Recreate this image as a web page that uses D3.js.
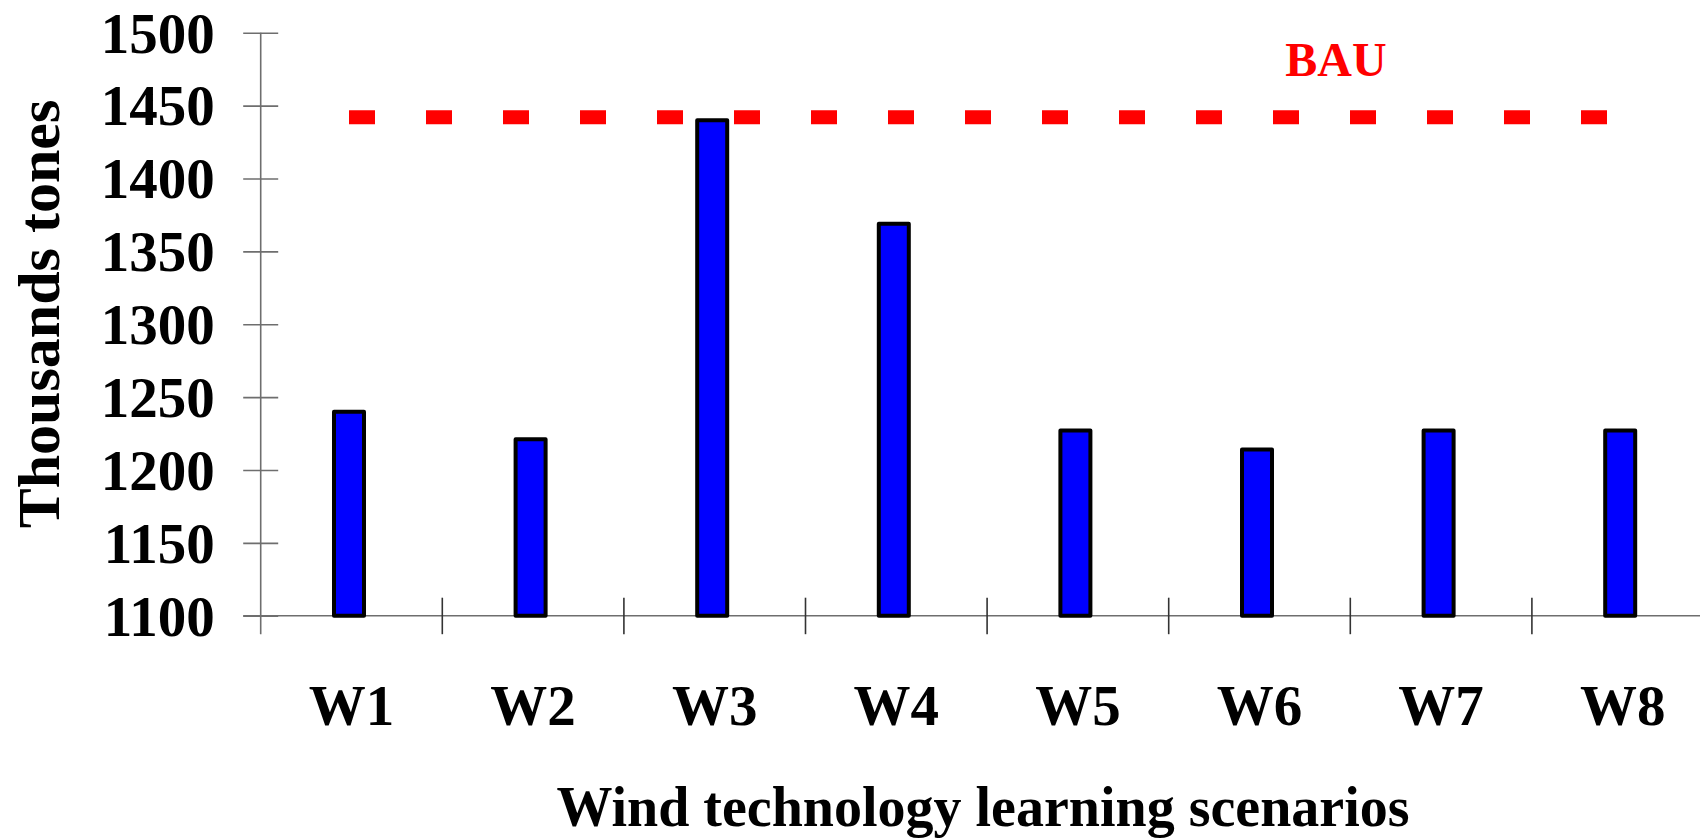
<!DOCTYPE html>
<html>
<head>
<meta charset="utf-8">
<script src="https://cdn.jsdelivr.net/npm/d3@7"></script>
<style>
  body { margin: 0; background: #fff; }
  text { font-family: 'Liberation Serif', 'Times New Roman', serif; font-weight: bold; }
</style>
</head>
<body>
<svg id="chart" width="1700" height="838"></svg>
<script>
// data
const scenarios = ['W1', 'W2', 'W3', 'W4', 'W5', 'W6', 'W7', 'W8'];
const emissions = [1240, 1221, 1440, 1369, 1227, 1214, 1227, 1227];
const bau_value = 1442;
const y_ticks = [1100, 1150, 1200, 1250, 1300, 1350, 1400, 1450, 1500];

const svg = d3.select('#chart');
const left = 260.7;
const band = 181.6;
const top_y = 32.7;
const base_y = 615.7;

const x = d3.scaleBand()
  .domain(scenarios)
  .range([left, left + band * scenarios.length])
  .paddingInner(0).paddingOuter(0);

const y = d3.scaleLinear()
  .domain([1100, 1500])
  .range([base_y, top_y]);

const axis_color = '#6e6e6e';

// y axis, ticks crossing the line on both sides
const gy = svg.append('g')
  .attr('transform', `translate(${left},0)`)
  .call(d3.axisLeft(y).tickValues(y_ticks).tickSize(17.5).tickFormat(d3.format('d')));
gy.select('.domain').remove();
gy.selectAll('.tick line')
  .attr('x1', 17.5).attr('x2', -17.5)
  .attr('stroke', axis_color).attr('stroke-width', 1.6);
gy.selectAll('.tick text')
  .attr('x', -46)
  .attr('dy', '0.34em')
  .attr('fill', '#000')
  .style('font-size', '57px')
  .style('font-family', "'Liberation Serif', serif")
  .style('font-weight', 'bold');
svg.append('line')
  .attr('x1', left).attr('x2', left)
  .attr('y1', top_y).attr('y2', base_y + 18.5)
  .attr('stroke', axis_color).attr('stroke-width', 1.6);

// x axis line and category boundary ticks
svg.append('line')
  .attr('x1', left - 17.5).attr('x2', 1700)
  .attr('y1', base_y).attr('y2', base_y)
  .attr('stroke', axis_color).attr('stroke-width', 1.6);
svg.append('g').selectAll('line')
  .data(scenarios.slice(1))
  .join('line')
  .attr('x1', d => x(d)).attr('x2', d => x(d))
  .attr('y1', base_y - 18).attr('y2', base_y + 18.5)
  .attr('stroke', '#333').attr('stroke-width', 1.6);

// bars
const bar_w = 30;
svg.append('g').selectAll('rect')
  .data(scenarios)
  .join('rect')
  .attr('x', (d) => x(d) + x.bandwidth() / 2 - bar_w / 2 - 2.5)
  .attr('y', (d, i) => y(emissions[i]))
  .attr('width', bar_w)
  .attr('height', (d, i) => y(1100) - y(emissions[i]))
  .attr('fill', '#0000ff')
  .attr('stroke', '#000')
  .attr('stroke-width', 4)
  .attr('stroke-linejoin', 'round');

// category labels
svg.append('g').selectAll('text')
  .data(scenarios)
  .join('text')
  .attr('x', d => x(d) + x.bandwidth() / 2)
  .attr('y', 725)
  .attr('text-anchor', 'middle')
  .style('font-size', '57px')
  .text(d => d);

// BAU reference line
const first_c = x(scenarios[0]) + x.bandwidth() / 2 - 2.5;
const last_c = x(scenarios[scenarios.length - 1]) + x.bandwidth() / 2 - 2.5;
svg.append('line')
  .attr('x1', first_c).attr('x2', last_c)
  .attr('y1', y(bau_value)).attr('y2', y(bau_value))
  .attr('stroke', '#ff0000')
  .attr('stroke-width', 14)
  .attr('stroke-dasharray', '26,51');
svg.append('text')
  .attr('x', 1336)
  .attr('y', 76)
  .attr('text-anchor', 'middle')
  .attr('fill', '#ff0000')
  .style('font-size', '48px')
  .text('BAU');

// axis titles
svg.append('text')
  .attr('transform', `translate(59,314) rotate(-90)`)
  .attr('text-anchor', 'middle')
  .style('font-size', '60px')
  .text('Thousands tones');
svg.append('text')
  .attr('x', 983)
  .attr('y', 826)
  .attr('text-anchor', 'middle')
  .style('font-size', '56px')
  .text('Wind technology learning scenarios');
</script>
</body>
</html>
